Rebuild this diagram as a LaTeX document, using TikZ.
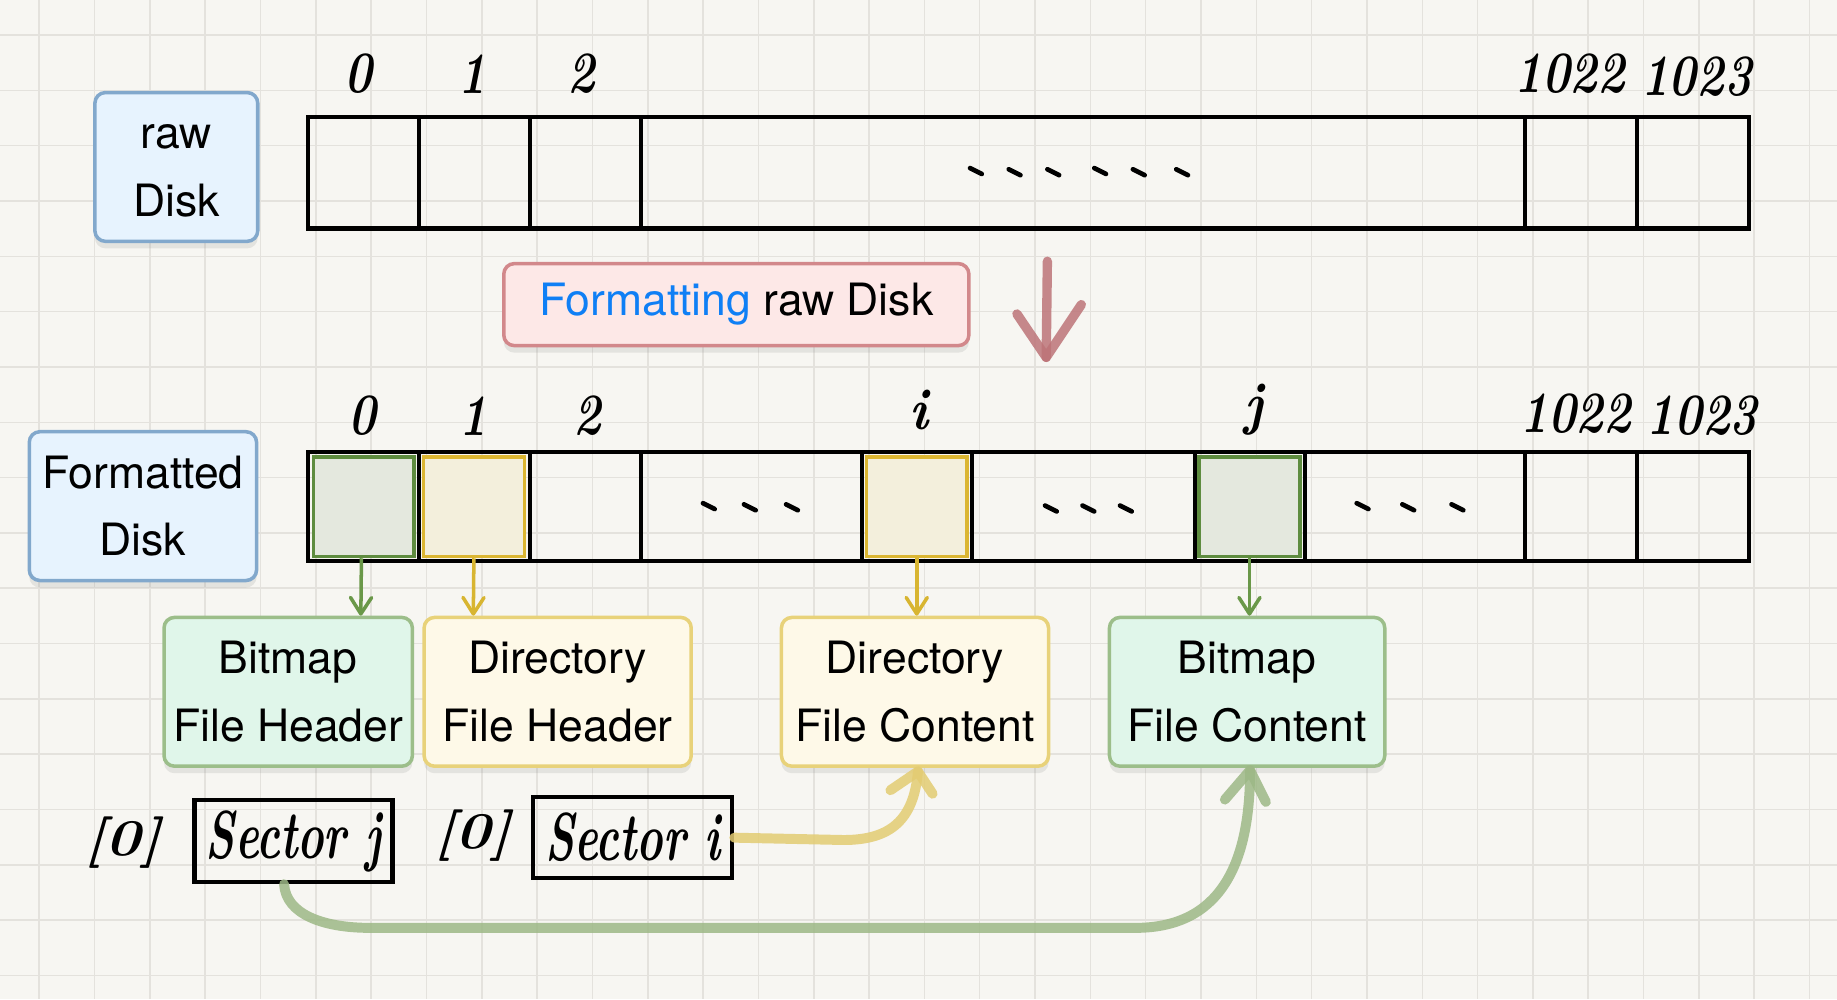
\documentclass[tikz,border=0pt]{standalone}
\usepackage{fontspec}
\setsansfont{TeX Gyre Heros}
\usetikzlibrary{shadows,arrows.meta}
\definecolor{bg}{HTML}{F7F6F2}
\definecolor{gridc}{HTML}{E4E2DD}
\definecolor{bluefill}{HTML}{E7F3FE}
\definecolor{blueline}{HTML}{82A8CC}
\definecolor{pinkfill}{HTML}{FDE8E7}
\definecolor{pinkline}{HTML}{D2888B}
\definecolor{linkblue}{HTML}{0F7FF5}
\definecolor{greenfill}{HTML}{E0F6EA}
\definecolor{greenline}{HTML}{9CBE8A}
\definecolor{yellowfill}{HTML}{FEF9E8}
\definecolor{yellowline}{HTML}{E8D27A}
\definecolor{gcellline}{HTML}{5E8C3F}
\definecolor{gcellfill}{HTML}{E4E8DE}
\definecolor{ycellline}{HTML}{DBB632}
\definecolor{ycellfill}{HTML}{F3EFDC}
\definecolor{garrow}{HTML}{6A9849}
\definecolor{yarrow}{HTML}{D8B531}
\definecolor{gconn}{HTML}{9DB886}
\definecolor{yconn}{HTML}{E3CC72}
\definecolor{redarrow}{HTML}{BD7478}
\newcommand\hw[3]{\scalebox{#1}[1]{\fontsize{#2}{#2}\selectfont\bfseries\itshape #3}}
\begin{document}
\begin{tikzpicture}[x=1pt,y=-1pt,
  disk/.style={line width=3.5pt, black, line cap=rect},
  box/.style={draw, line width=3pt, rounded corners=9pt, align=center, inner sep=0pt,
    font=\sffamily\fontsize{38}{58}\selectfont,
    drop shadow={opacity=0.16, shadow xshift=0pt, shadow yshift=-6pt}},
  bluebox/.style={box, fill=bluefill, draw=blueline},
  pinkbox/.style={box, fill=pinkfill, draw=pinkline},
  greenbox/.style={box, fill=greenfill, draw=greenline},
  yellowbox/.style={box, fill=yellowfill, draw=yellowline},
  gcell/.style={draw=gcellline, fill=gcellfill, line width=3pt, minimum width=86pt, minimum height=85pt, inner sep=0pt},
  ycell/.style={draw=ycellline, fill=ycellfill, line width=3pt, minimum width=86pt, minimum height=85pt, inner sep=0pt},
  sectorbox/.style={draw, line width=3.5pt, inner sep=0pt},
  hand/.style={inner sep=0pt},
  dotstroke/.style={line width=4pt, line cap=round},
  garr/.style={garrow, line width=3pt, -{Straight Barb[length=14pt,width=18pt,round]}},
  yarr/.style={yarrow, line width=3pt, -{Straight Barb[length=14pt,width=18pt,round]}},
  gconnst/.style={gconn, line width=8.5pt, line cap=round, line join=round, draw opacity=0.85},
  yconnst/.style={yconn, line width=8.5pt, line cap=round, line join=round, draw opacity=0.85},
  redst/.style={redarrow, line width=8pt, line cap=round, line join=round, draw opacity=0.85}
]
% background and grid
\fill[bg] (0,0) rectangle (1568,853);
\useasboundingbox (0,0) rectangle (1568,853);
\foreach \i in {0,...,32} \draw[gridc, line width=1.3pt] ({33.5+47.22*\i},0) -- ({33.5+47.22*\i},853);
\foreach \j in {0,...,17} \draw[gridc, line width=1.3pt] (0,{29.9+47.22*\j}) -- (1568,{29.9+47.22*\j});

% raw disk row
\draw[disk] (263,100) rectangle (1493,195);
\foreach \x in {358,452,547,1302,1397} \draw[disk] (\x,100) -- (\x,195);
\foreach \x/\y in {833/146,866/147,899/147,939/146,972/147,1009/147}
  \draw[dotstroke] ({\x-5},{\y-2.5}) -- ({\x+5},{\y+2.5});
\node[hand] (r0) at (306,63) {\hw{0.8}{50}{0}};
\node[hand] (r1) at (403,63) {\hw{0.8}{50}{1}};
\node[hand] (r2) at (496,63) {\hw{0.8}{50}{2}};
\node[hand] (r1022) at (1340,63) {\hw{0.8}{50}{1022}};
\node[hand] (r1023) at (1448,65) {\hw{0.8}{50}{1023}};
\node[bluebox, minimum width=139pt, minimum height=127pt] (raw) at (150.5,142.5) {\vphantom{D}raw\\Disk};

% formatting label and arrow
\node[pinkbox, minimum width=397pt, minimum height=70pt] (fmt) at (628.5,260) {\textcolor{linkblue}{Formatting} raw Disk};
\coordinate (ra1) at (894,223);
\coordinate (ra2) at (893,305);
\draw[redst] (ra1) -- (ra2);
\draw[redst] (868,268) -- (ra2) -- (923,260);

% formatted disk row
\draw[disk] (263,386) rectangle (1493,479);
\foreach \x in {358,452,547,736,830,1020,1114,1302,1397} \draw[disk] (\x,386) -- (\x,479);
\node[gcell] (c0) at (310.5,432.5) {};
\node[ycell] (c1) at (404.5,432.5) {};
\node[ycell] (ci) at (782.5,432.5) {};
\node[gcell] (cj) at (1066.5,432.5) {};
\foreach \x/\y in {605/432,640/433,676/433,897/434,929/434,961/434,1163/432,1202/433,1244/433}
  \draw[dotstroke] ({\x-5},{\y-2.5}) -- ({\x+5},{\y+2.5});
\node[hand] (f0) at (309,355) {\hw{0.8}{50}{0}};
\node[hand] (f1) at (404,355) {\hw{0.8}{50}{1}};
\node[hand] (f2) at (501,355) {\hw{0.8}{50}{2}};
\node[hand] (fi) at (784,350) {\hw{0.9}{50}{i}};
\node[hand] (fj) at (1070,350) {\hw{0.9}{50}{j}};
\node[hand] (f1022) at (1345,353) {\hw{0.8}{50}{1022}};
\node[hand] (f1023) at (1453,355) {\hw{0.8}{50}{1023}};
\node[bluebox, minimum width=194pt, minimum height=127pt] (fdisk) at (122,432) {Formatted\\Disk};

% content boxes
\node[greenbox, minimum width=212pt, minimum height=127pt] (bfh) at (246,590.5) {Bitmap\\File Header};
\node[yellowbox, minimum width=228pt, minimum height=127pt] (dfh) at (476,590.5) {Directory\\File Header};
\node[yellowbox, minimum width=228pt, minimum height=127pt] (dfc) at (781,590.5) {Directory\\File Content};
\node[greenbox, minimum width=235pt, minimum height=127pt] (bfc) at (1064.5,590.5) {Bitmap\\File Content};

\draw[garr] ([xshift=-2pt]c0.south) -- ([xshift=62pt]bfh.north);
\draw[yarr] (c1.south) -- ([xshift=-72pt]dfh.north);
\draw[yarr] (ci.south) -- ([xshift=1.5pt]dfc.north);
\draw[garr] (cj.south) -- ([xshift=2pt]bfc.north);

% sector pointers
\node[hand] (z1) at (105,719) {\hw{1.15}{44}{[0]}};
\node[sectorbox, minimum width=169pt, minimum height=70pt] (secj) at (250.5,718) {\hw{0.66}{58}{Sector j}};
\node[hand] (z2) at (404,713) {\hw{1.15}{44}{[0]}};
\node[sectorbox, minimum width=170pt, minimum height=69pt] (seci) at (540,715) {\hw{0.66}{58}{Sector i}};

\draw[yconnst] (seci.east) -- (720,717) .. controls (760,717) and (780,700) .. ([xshift=2.5pt,yshift=-3pt]dfc.south);
\draw[yconnst] ([xshift=-21pt,yshift=-19pt]dfc.south) -- ([xshift=2.5pt,yshift=-3pt]dfc.south) -- ([xshift=15pt,yshift=-22pt]dfc.south);

\draw[gconnst] ([xshift=-8pt]secj.south) .. controls (244,780) and (275,792) .. (316,792) -- (969,792) .. controls (1040,792) and (1067,740) .. ([xshift=2.5pt,yshift=-2pt]bfc.south);
\draw[gconnst] ([xshift=-19pt,yshift=-27pt]bfc.south) -- ([xshift=2.5pt,yshift=-2pt]bfc.south) -- ([xshift=16pt,yshift=-29pt]bfc.south);
\end{tikzpicture}
\end{document}
